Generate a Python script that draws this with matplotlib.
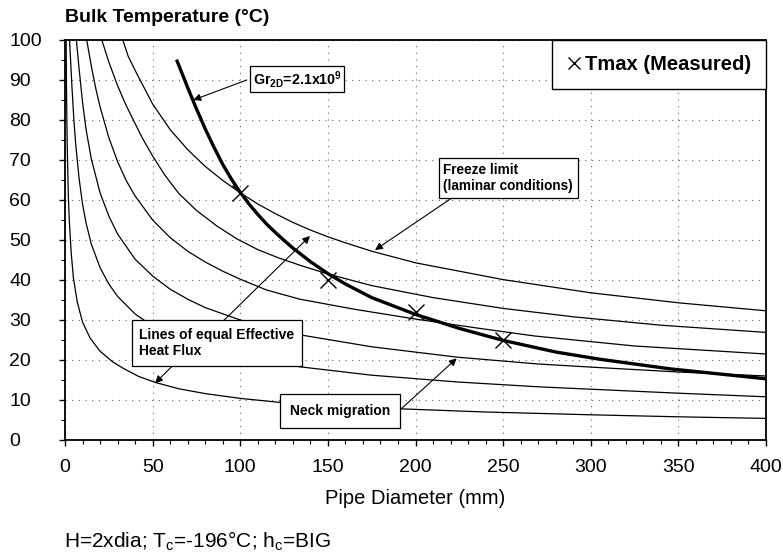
import matplotlib
matplotlib.use('Agg')
import matplotlib.pyplot as plt
from matplotlib.ticker import MultipleLocator

plt.rcParams['font.family'] = ['Liberation Sans', 'DejaVu Sans']
plt.rcParams['mathtext.fontset'] = 'custom'
plt.rcParams['mathtext.rm'] = 'Liberation Sans'
plt.rcParams['mathtext.bf'] = 'Liberation Sans:bold'

# lines of equal effective heat flux, top one is the freeze limit
c1_x = [33, 36, 40, 50, 60, 70, 80, 90, 100, 110, 120, 130, 140, 150, 160, 175, 200, 250, 300, 350, 400]
c1_t = [100, 96, 92.4, 84, 77.6, 72.6, 68.4, 64.9, 61.8, 59, 56.6, 54.4, 52.5, 50.8, 49.3, 47.2, 44.3, 40.1, 36.8, 34.3, 32.3]

c2_x = [21, 25, 30, 34.5, 39, 44, 50, 57, 65, 75, 87, 98, 110, 122, 134, 150, 175, 210, 250, 290, 340, 400]
c2_t = [100, 94.5, 88.6, 84, 80, 75.6, 71, 66.2, 61.6, 57.4, 53.4, 50.3, 47.6, 45.5, 43.7, 41.5, 38.6, 35.6, 32.9, 30.8, 28.7, 26.9]

c3_x = [12.4, 15, 17.5, 20, 25, 30, 35, 40, 50, 60, 70, 80, 90, 100, 115, 134, 165, 199, 235, 268, 325, 400]
c3_t = [100, 93.5, 88, 83.3, 75.6, 69.6, 64.8, 61, 55, 50.6, 47.2, 44.5, 42.2, 40.2, 37.5, 35.2, 32.7, 30.3, 28.0, 26.0, 23.5, 21.5]

c4_x = [6.5, 8, 10, 12, 15, 20, 25, 30, 40, 50, 60, 70, 80, 100, 134, 175, 224, 270, 305, 350, 400]
c4_t = [100, 93, 84.5, 77.7, 70.3, 61.8, 56, 51.5, 45.2, 41, 37.7, 35.2, 33.1, 30, 26.3, 23.3, 20.7, 19.0, 18.1, 17.0, 16.0]

c5_x = [2.6, 3, 4, 5, 6, 8, 10, 12, 15, 20, 25, 30, 40, 50, 60, 70, 80, 100, 134, 175, 224, 270, 305, 350, 400]
c5_t = [100, 96.5, 88, 80.5, 74.5, 65.5, 59, 54.3, 49, 43.1, 39, 35.9, 31.5, 28.5, 26.3, 24.6, 23.1, 20.9, 18.3, 16.2, 14.5, 13.3, 12.6, 11.7, 10.8]

# neck migration line
c6_x = [0.65, 0.8, 1, 1.3, 1.9, 2.5, 3.5, 4.8, 7, 10, 14.3, 20, 27, 33.3, 42, 51.4, 65, 80, 100, 125, 160, 191, 240, 300, 350, 400]
c6_t = [100, 90.5, 82, 73, 61, 54.5, 47, 40.5, 34.5, 29.5, 25.5, 22.2, 19.6, 17.9, 15.9, 14.4, 12.8, 11.6, 10.4, 9.3, 8.4, 7.8, 7.0, 6.3, 5.8, 5.4]

# Gr2D = 2.1e9 line
gr_x = [64, 70, 75, 80, 85, 90, 95, 100, 105, 110, 115, 120, 125, 130, 140, 150, 160, 175, 200, 225, 250, 280, 305, 345, 400]
gr_t = [94.7, 88.1, 82.8, 77.8, 73.2, 68.9, 65.2, 61.9, 59, 56.4, 54, 51.9, 49.9, 48, 44.6, 41.6, 39, 35.6, 31.4, 27.9, 24.9, 22.0, 20.2, 17.8, 15.3]

meas_x = [100, 150, 200, 250]
meas_t = [61.8, 40.1, 32.1, 25.1]

x_ticks = [0, 50, 100, 150, 200, 250, 300, 350, 400]
y_ticks = [0, 10, 20, 30, 40, 50, 60, 70, 80, 90, 100]

fig = plt.figure(figsize=(7.83, 5.56), dpi=100)
ax = fig.add_axes([65/783, 1-440/556, 701/783, 400/556])

for xs, ts in [(c1_x, c1_t), (c2_x, c2_t), (c3_x, c3_t), (c4_x, c4_t), (c5_x, c5_t), (c6_x, c6_t)]:
    ax.plot(xs, ts, color='black', lw=0.9, zorder=2)
ax.plot(gr_x, gr_t, color='black', lw=2.4, zorder=3, solid_joinstyle='round')
ax.plot(meas_x, meas_t, ls='none', marker='x', ms=11, mew=1.0, color='black',
        zorder=4, label='Tmax (Measured)')

ax.set_xlim(0, 400)
ax.set_ylim(0, 100)
ax.set_xticks(x_ticks)
ax.set_yticks(y_ticks)
ax.xaxis.set_minor_locator(MultipleLocator(10))
ax.yaxis.set_minor_locator(MultipleLocator(5))
ax.tick_params(which='major', direction='out', length=4, width=1, labelsize=14)
ax.tick_params(which='minor', direction='out', length=3, width=0.8)
ax.tick_params(axis='x', pad=10)
ax.tick_params(axis='y', pad=36)
for lab in ax.get_yticklabels():
    lab.set_horizontalalignment('left')
for s in ax.spines.values():
    s.set_linewidth(1.3)
ax.grid(True, color='0.4', ls=(0, (1, 5)), lw=0.8)

ax.set_xlabel('Pipe Diameter (mm)', fontsize=14.5, labelpad=9)
fig.text(65/783, 1-17/556, 'Bulk Temperature (°C)', fontsize=14, fontweight='bold',
         ha='left', va='center')
fig.text(64/783, 1-541/556, r'H=2xdia; T$_\mathregular{c}$=-196°C; h$_\mathregular{c}$=BIG',
         fontsize=15, ha='left', va='center')

ax.legend(loc='upper right', borderaxespad=0, fancybox=False, edgecolor='black',
          framealpha=1, prop=dict(size=14.5, weight='bold'), handlelength=0.7,
          handletextpad=0.2, borderpad=0.75, markerscale=0.85).get_frame().set_linewidth(1.0)

arrow = dict(arrowstyle='-|>', color='black', lw=0.8, mutation_scale=11, shrinkA=0, shrinkB=0)
box = dict(boxstyle='square,pad=0.35', fc='white', ec='black', lw=0.9)

ax.annotate('', xy=(73.2, 85), xytext=(103.7, 90), arrowprops=arrow, zorder=5)
ax.text(107.0, 90.2, r'Gr$_\mathregular{2D}$=2.1x10$^\mathregular{9}$', fontsize=10.3,
        fontweight='bold', ha='left', va='center',
        bbox=dict(boxstyle='square,pad=0.18', fc='white', ec='black', lw=0.9), zorder=6)

ax.annotate('', xy=(176.9, 47.5), xytext=(221.4, 60.7), arrowprops=arrow, zorder=5)
ax.text(215.9, 65.5, 'Freeze limit\n(laminar conditions)', fontsize=9.8, fontweight='bold',
        ha='left', va='center', linespacing=1.15, bbox=box, zorder=6)

ax.annotate('', xy=(139.8, 51), xytext=(90.3, 29.75), arrowprops=arrow, zorder=5)
ax.annotate('', xy=(51.4, 14.2), xytext=(61.8, 18.75), arrowprops=arrow, zorder=5)
ax.text(42.5, 24.25, 'Lines of equal Effective\nHeat Flux', fontsize=10, fontweight='bold',
        ha='left', va='center', linespacing=1.2,
        bbox=dict(boxstyle='square,pad=0.55', fc='white', ec='black', lw=0.9), zorder=6)

ax.annotate('', xy=(223.5, 20.4), xytext=(192.1, 7.9), arrowprops=arrow, zorder=5)
ax.text(128.5, 7.25, 'Neck migration', fontsize=10, fontweight='bold',
        ha='left', va='center', bbox=dict(boxstyle='square,pad=0.7', fc='white', ec='black', lw=0.9),
        zorder=6)

fig.savefig('out.png', dpi=100)
